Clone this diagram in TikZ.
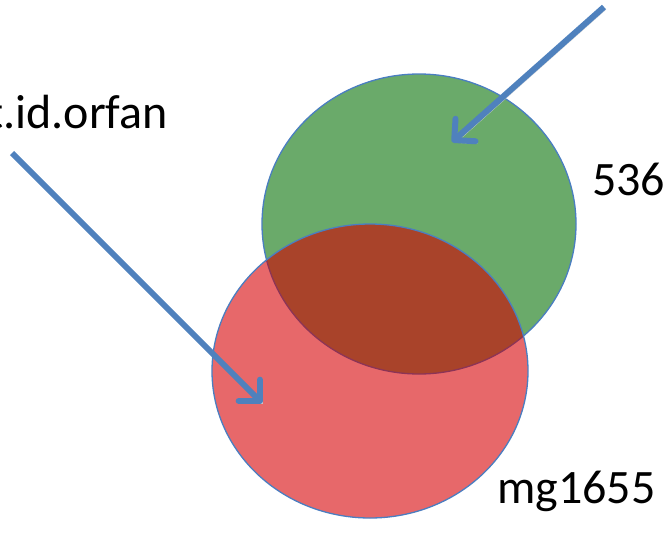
\documentclass[tikz,border=0pt]{standalone}
\usepackage{fontspec}
\setmainfont{Carlito}
\usetikzlibrary{arrows.meta}
\definecolor{setgreen}{RGB}{106,170,106}
\definecolor{setred}{RGB}{231,104,106}
\definecolor{setboth}{RGB}{169,67,42}
\definecolor{rimblue}{RGB}{74,126,193}
\definecolor{rimplum}{RGB}{140,52,86}
\definecolor{arrblue}{RGB}{79,129,189}

\begin{document}
\begin{tikzpicture}[x=1pt, y=-1pt,
  lbl/.style={font=\fontsize{48}{56}\selectfont, inner sep=0pt},
  rim/.style={draw=rimblue, line width=1.3pt},
  gshape/.style={x radius=157pt, y radius=150pt},
  rshape/.style={x radius=158pt, y radius=147pt},
  arr/.style={draw=arrblue, line width=6pt,
    -{Straight Barb[length=15pt, width=30pt, line width=6pt, round]},
    preaction={draw=black!18, transform canvas={shift={(2pt,-2.5pt)}}}}]
  \useasboundingbox (0,0) rectangle (664,533);
  \coordinate (gc) at (419,224);
  \coordinate (rc) at (370,371);
  % the two sets
  \fill[setgreen] (gc) ellipse [gshape];
  \draw[rim] (gc) ellipse [gshape];
  \fill[setred] (rc) ellipse [rshape];
  \begin{scope}
    \clip (gc) ellipse [gshape];
    \fill[setboth] (rc) ellipse [rshape];
  \end{scope}
  \begin{scope}
    \clip (rc) ellipse [rshape];
    \draw[draw=rimplum, line width=1.3pt] (gc) ellipse [gshape];
  \end{scope}
  \draw[rim] (rc) ellipse [rshape];
  % labels
  \node[lbl, anchor=base east] (orfan) at (168,128) {t.id.orfan};
  \node[lbl, anchor=base west] (kname) at (592,195) {536};
  \node[lbl, anchor=base west] (mgname) at (497,503) {mg1655};
  % pointers
  \coordinate (p1s) at (604,7);
  \coordinate (p1e) at (452,142);
  \coordinate (p2s) at (12,153);
  \coordinate (p2e) at (262,403);
  \draw[arr] (p1s) -- (p1e);
  \draw[arr] (p2s) -- (p2e);
\end{tikzpicture}
\end{document}
